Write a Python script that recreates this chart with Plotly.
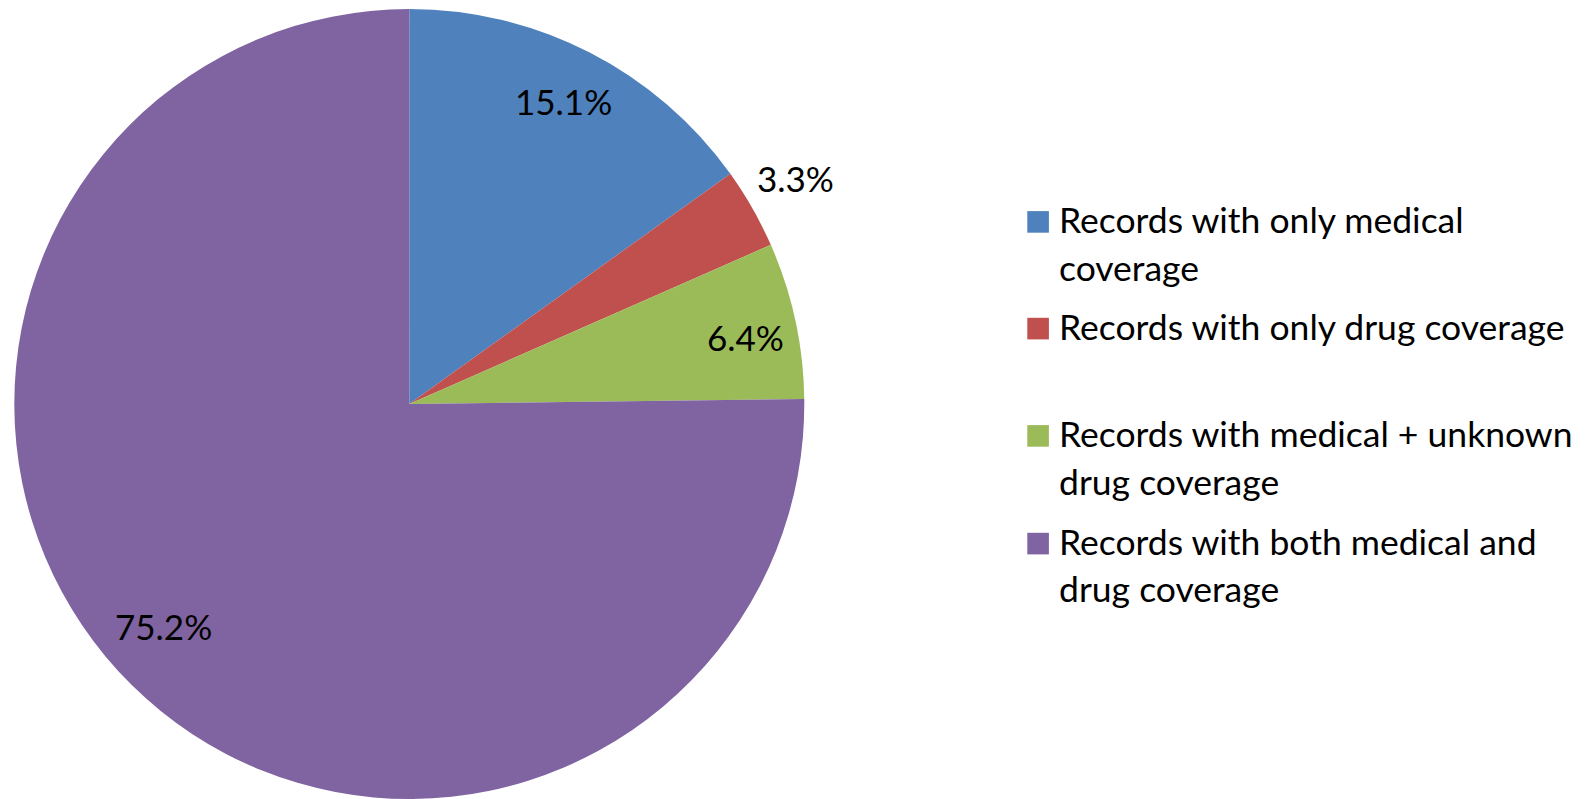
import math
import plotly.graph_objects as go

# Coverage breakdown (percent of records)
categories = [
    "Records with only medical coverage",
    "Records with only drug coverage",
    "Records with medical + unknown drug coverage",
    "Records with both medical and drug coverage",
]
values = [15.1, 3.3, 6.4, 75.2]

# Legend lines as they wrap in the key
legend_lines = [
    ["Records with only medical", "coverage"],
    ["Records with only drug coverage"],
    ["Records with medical + unknown", "drug coverage"],
    ["Records with both medical and", "drug coverage"],
]

colors = ["#4F81BD", "#C0504D", "#9BBB59", "#8064A2"]

W, H = 1587, 799
TOP = 9
FONT = "Lato"

# pie geometry in page pixels
pie_right = 818.6
cx = pie_right / 2
area_h = H - TOP
R = area_h / 2
cy = TOP + R


def px_x(x):
    return x / W


def px_y(y):
    return (H - y) / area_h


fig = go.Figure(
    go.Pie(
        labels=categories,
        values=values,
        sort=False,
        direction="clockwise",
        rotation=0,
        marker=dict(colors=colors, line=dict(width=0)),
        textinfo="none",
        hoverinfo="label+percent",
        showlegend=False,
        domain=dict(x=[0, pie_right / W], y=[0, 1]),
    )
)

# data labels: radius (fraction of R) and angular nudge (deg) from the slice mid-angle
label_radius = [0.858, 1.131, 0.868, 0.842]
label_nudge = [-0.1, -0.45, 1.15, 3.1]
annotations = []
total = sum(values)
cum = 0.0
for v, rf, nd in zip(values, label_radius, label_nudge):
    mid = math.radians((cum + v / 2) / total * 360 + nd)
    cum += v
    lx = cx + rf * R * math.sin(mid)
    ly = cy - rf * R * math.cos(mid) - 1.5
    annotations.append(
        dict(
            x=px_x(lx), y=px_y(ly), xref="paper", yref="paper",
            text=f"{v:.1f}%", showarrow=False,
            xanchor="center", yanchor="middle",
            font=dict(family=FONT, size=35, color="#000000"),
        )
    )

# legend key drawn as squares plus wrapped text lines
shapes = []
item_top = [221.9, 328.6, 435.9, 543.6]
line_step = 47.3
sq = 21.6
sq_x0 = 1027.3
text_x = 1057
for i, lines in enumerate(legend_lines):
    yc = item_top[i]
    shapes.append(
        dict(
            type="rect", xref="paper", yref="paper",
            x0=px_x(sq_x0), x1=px_x(sq_x0 + sq),
            y0=px_y(yc + sq / 2), y1=px_y(yc - sq / 2),
            fillcolor=colors[i], line=dict(width=0),
        )
    )
    for j, line in enumerate(lines):
        annotations.append(
            dict(
                x=px_x(text_x), y=px_y(yc + j * line_step - 2),
                xref="paper", yref="paper",
                text=line, showarrow=False,
                xanchor="left", yanchor="middle",
                font=dict(family=FONT, size=35.5, color="#000000"),
            )
        )

fig.update_layout(
    width=W,
    height=H,
    margin=dict(l=0, r=0, t=TOP, b=0),
    paper_bgcolor="#FFFFFF",
    plot_bgcolor="#FFFFFF",
    annotations=annotations,
    shapes=shapes,
)

fig.write_html("out.html")
